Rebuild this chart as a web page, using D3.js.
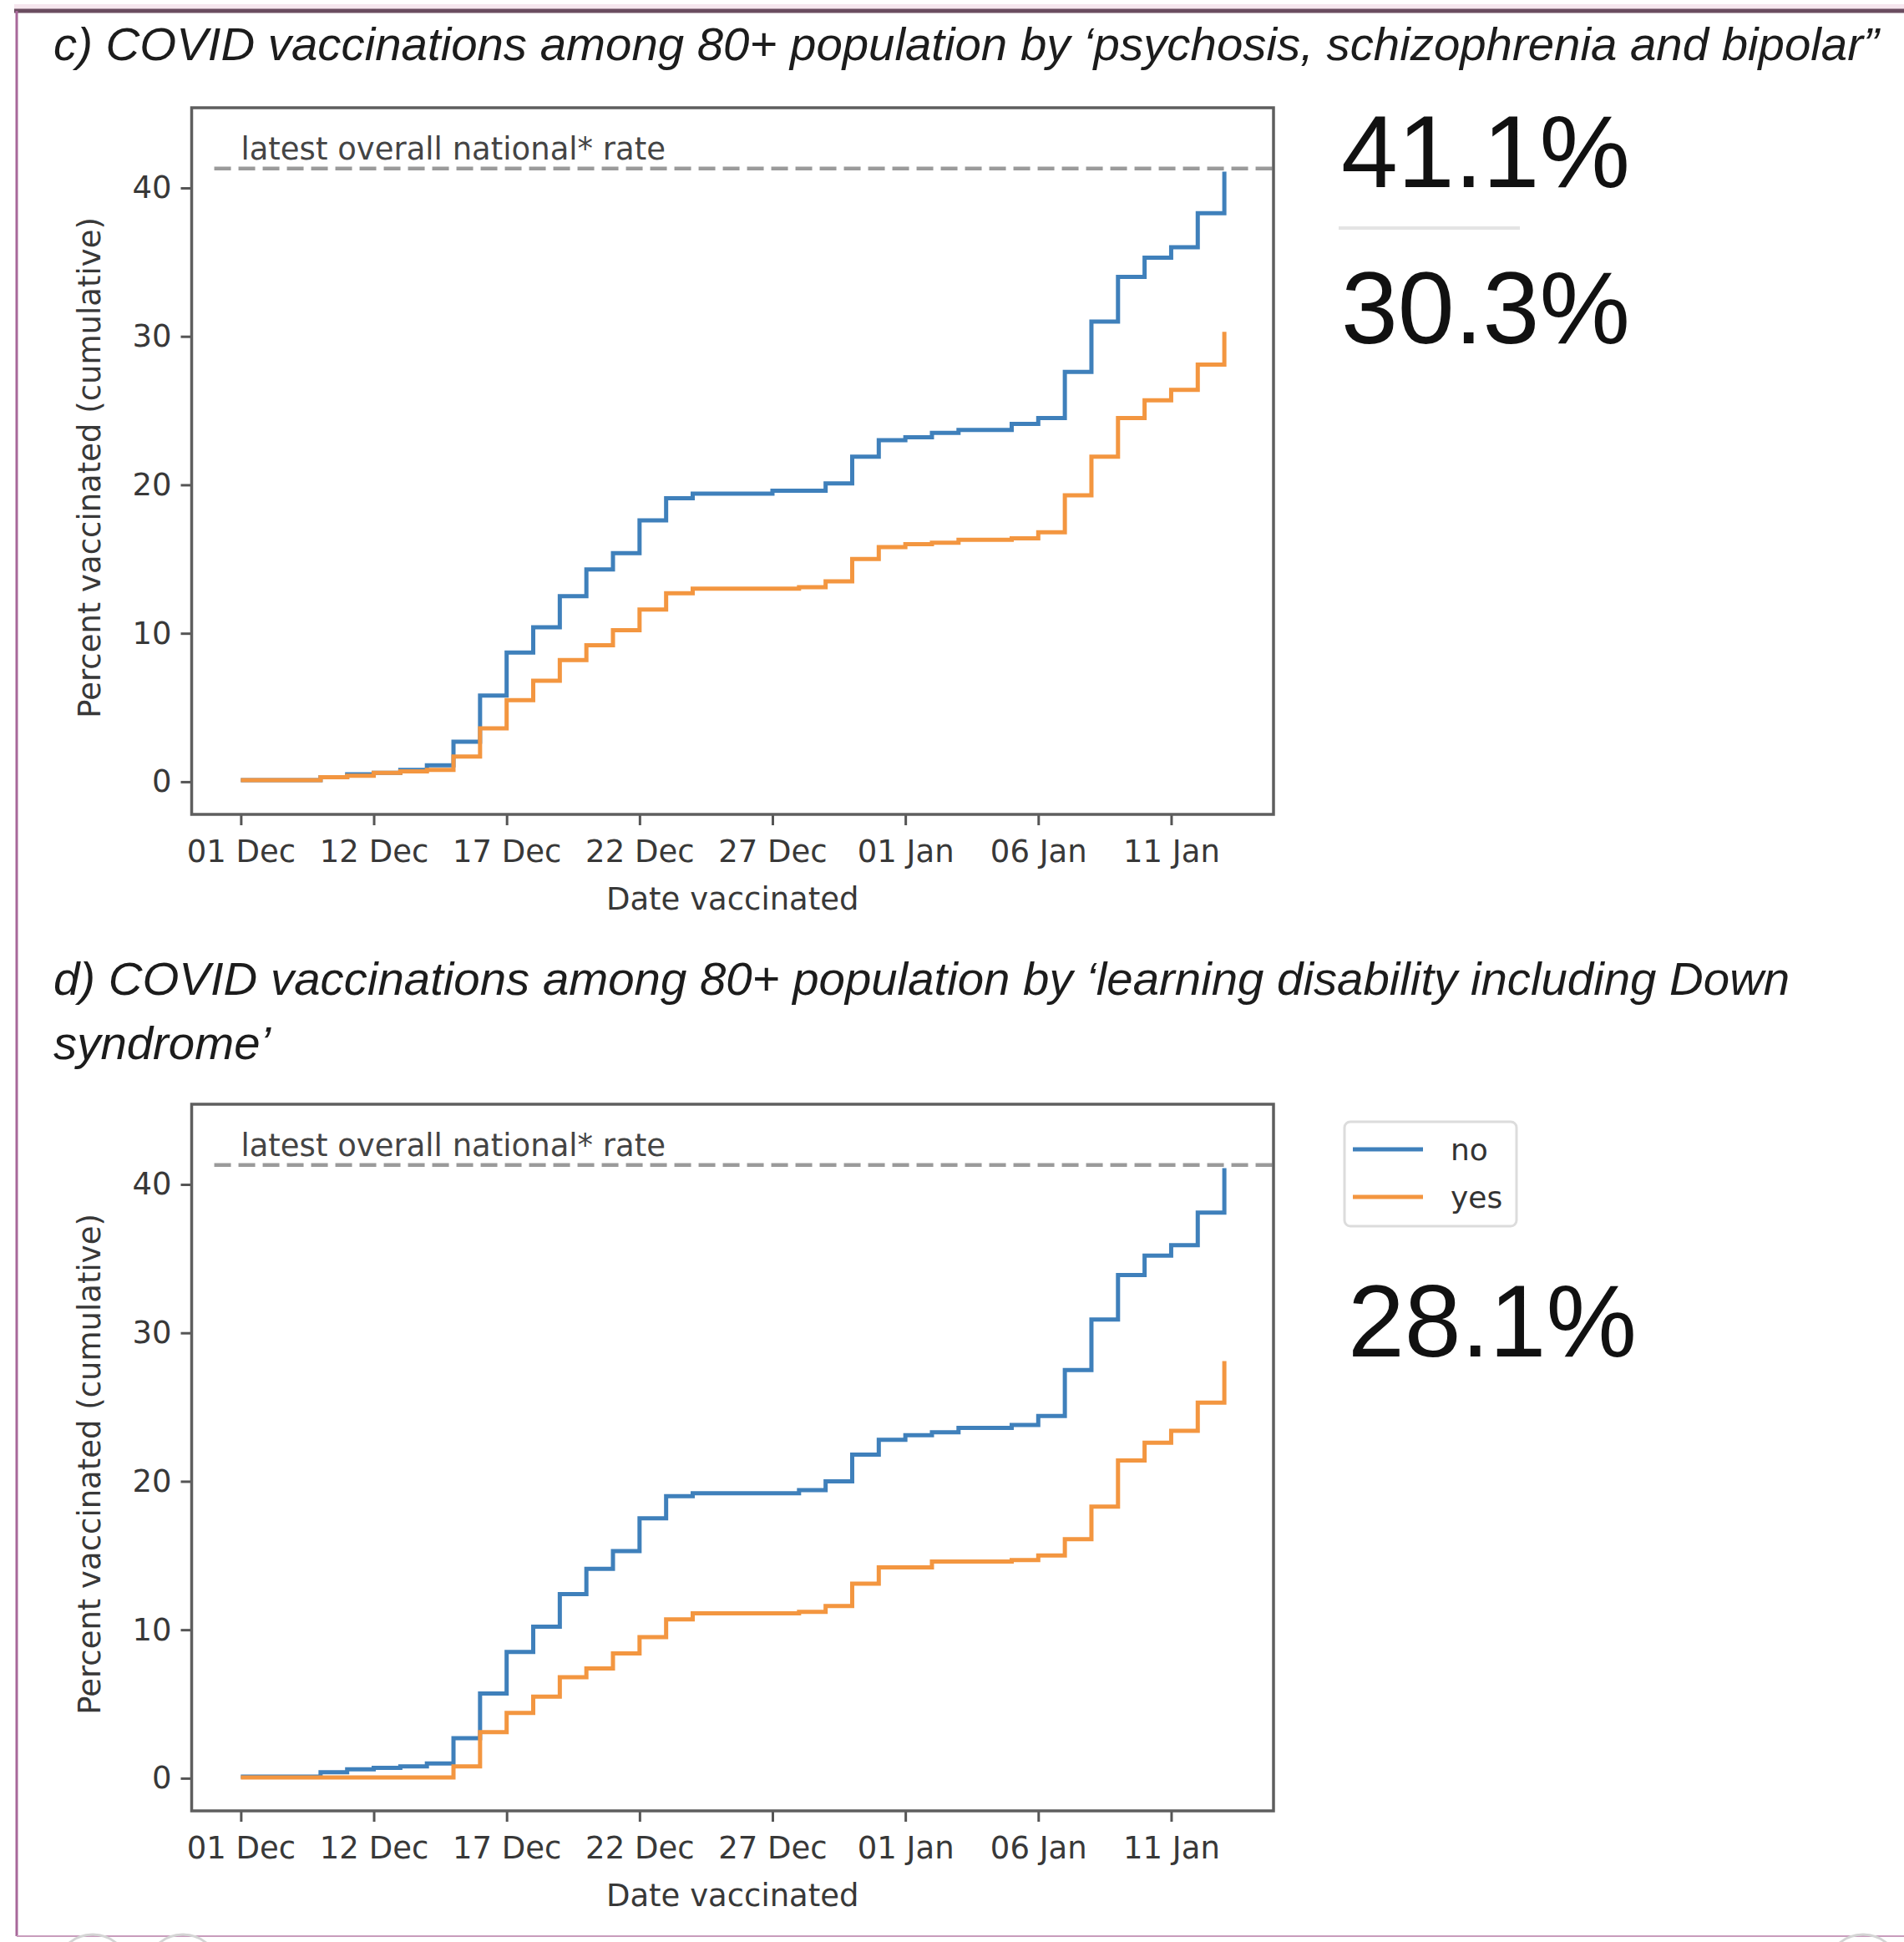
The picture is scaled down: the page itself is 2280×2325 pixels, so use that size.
<!DOCTYPE html>
<html><head><meta charset="utf-8">
<script src="https://cdn.jsdelivr.net/npm/d3@7/dist/d3.min.js"></script>
<style>body{margin:0;background:#fff;overflow:hidden}</style>
</head><body>
<svg id="chart" width="2280" height="2325" xmlns="http://www.w3.org/2000/svg"></svg>
<script>
// ---------- data ----------
const dates = ["2020-12-07","2020-12-08","2020-12-09","2020-12-10","2020-12-11","2020-12-12","2020-12-13","2020-12-14",
  "2020-12-15","2020-12-16","2020-12-17","2020-12-18","2020-12-19","2020-12-20","2020-12-21","2020-12-22",
  "2020-12-23","2020-12-24","2020-12-25","2020-12-26","2020-12-27","2020-12-28","2020-12-29","2020-12-30",
  "2020-12-31","2021-01-01","2021-01-02","2021-01-03","2021-01-04","2021-01-05","2021-01-06","2021-01-07",
  "2021-01-08","2021-01-09","2021-01-10","2021-01-11","2021-01-12","2021-01-13"];
const tickDates = ["2020-12-07","2020-12-12","2020-12-17","2020-12-22","2020-12-27","2021-01-01","2021-01-06","2021-01-11"];
const tickLabels = ["01 Dec","12 Dec","17 Dec","22 Dec","27 Dec","01 Jan","06 Jan","11 Jan"];
const yTicks = [0,10,20,30,40];
const seriesNames = ["no","yes"];

// c) psychosis, schizophrenia and bipolar
const cNo  = [0.1,0.1,0.1,0.3,0.5,0.6,0.8,1.1,2.7,5.8,8.7,10.4,12.5,14.3,15.4,17.6,19.1,19.4,19.4,19.4,19.6,19.6,20.1,21.9,23.0,23.2,23.5,23.7,23.7,24.1,24.5,27.6,31.0,34.0,35.3,36.0,38.3,41.1];
const cYes = [0.1,0.1,0.1,0.3,0.4,0.6,0.7,0.8,1.7,3.6,5.5,6.8,8.2,9.2,10.2,11.6,12.7,13.0,13.0,13.0,13.0,13.1,13.5,15.0,15.8,16.0,16.1,16.3,16.3,16.4,16.8,19.3,21.9,24.5,25.7,26.4,28.1,30.3];
// d) learning disability including Down syndrome
const dNo  = [0.1,0.1,0.1,0.4,0.6,0.7,0.8,1.0,2.7,5.7,8.5,10.2,12.4,14.1,15.3,17.5,19.0,19.2,19.2,19.2,19.2,19.4,20.0,21.8,22.8,23.1,23.3,23.6,23.6,23.8,24.4,27.5,30.9,33.9,35.2,35.9,38.1,41.1];
const dYes = [0.05,0.05,0.05,0.05,0.05,0.05,0.05,0.05,0.8,3.1,4.4,5.5,6.8,7.4,8.4,9.5,10.7,11.1,11.1,11.1,11.1,11.2,11.6,13.1,14.2,14.2,14.6,14.6,14.6,14.7,15.0,16.1,18.3,21.4,22.6,23.4,25.3,28.1];

const nationalRate = 41.3;
const refLabel = "latest overall national* rate";
const titleC = "c) COVID vaccinations among 80+ population by \u2018psychosis, schizophrenia and bipolar\u201D";
const titleD1 = "d) COVID vaccinations among 80+ population by \u2018learning disability including Down";
const titleD2 = "syndrome\u2019";
const bigC1 = "41.1%", bigC2 = "30.3%", bigD = "28.1%";
const xLabel = "Date vaccinated";
const yLabel = "Percent vaccinated (cumulative)";

// ---------- drawing ----------
const parse = d3.utcParse("%Y-%m-%d");
const svg = d3.select("#chart");
const DAY = 864e5;
const colors = {no:"#3f80bb", yes:"#f39640"};
const axisFont = "'DejaVu Sans', sans-serif";
const titleFont = "'Liberation Sans', Arial, sans-serif";

// frame
svg.append("rect").attr("x",0).attr("y",0).attr("width",2280).attr("height",2325).attr("fill","#fff");
svg.append("line").attr("x1",17).attr("x2",2280).attr("y1",8).attr("y2",8).attr("stroke","#f6e6ee").attr("stroke-width",6);
svg.append("line").attr("x1",17).attr("x2",2280).attr("y1",13).attr("y2",13).attr("stroke","#6a4d60").attr("stroke-width",5);
svg.append("line").attr("x1",20).attr("x2",20).attr("y1",13).attr("y2",2318).attr("stroke","#a8689a").attr("stroke-width",3);
svg.append("line").attr("x1",20).attr("x2",2280).attr("y1",2318).attr("y2",2318).attr("stroke","#c89cbc").attr("stroke-width",2);
[[111,2360],[219,2360],[2231,2360]].forEach(c=>{
  svg.append("circle").attr("cx",c[0]).attr("cy",c[1]).attr("r",44).attr("fill","none").attr("stroke","#d4d4d4").attr("stroke-width",3);
});

// titles (fit width)
function titleText(t, x, y) {
  return svg.append("text").attr("x",x).attr("y",y).text(t)
    .attr("font-family",titleFont).attr("font-style","italic").attr("fill","#1c1c1c").attr("font-size",50);
}
const tc = titleText(titleC, 64, 72);
const fs = 50 * 2186 / tc.node().getComputedTextLength();
tc.attr("font-size", fs);
titleText(titleD1, 64, 1191).attr("font-size", fs);
titleText(titleD2, 64, 1268).attr("font-size", fs);

function panel(top, noVals, yesVals) {
  const left = 229.5, right = 1525, bottom = top + 846;
  const d0 = parse(dates[0]).getTime(), dN = parse(dates[dates.length-1]).getTime();
  const x = d3.scaleUtc().domain([new Date(d0 - 1.85*DAY), new Date(dN + 1.85*DAY)]).range([left, right]);
  const y = d3.scaleLinear().domain([-2.2, 45.4]).range([bottom, top]);
  const g = svg.append("g");
  const clipId = "clip" + Math.round(top);
  g.append("clipPath").attr("id", clipId).append("rect")
    .attr("x",left).attr("y",top).attr("width",right-left).attr("height",bottom-top);

  // reference line
  g.append("line").attr("clip-path",`url(#${clipId})`)
    .attr("x1", x(new Date(d0 - DAY))).attr("x2", right)
    .attr("y1", y(nationalRate)).attr("y2", y(nationalRate))
    .attr("stroke","#9a9a9a").attr("stroke-width",4.5).attr("stroke-dasharray","20,9");
  g.append("text").attr("x", x(new Date(d0))).attr("y", y(nationalRate) - 11)
    .text(refLabel).attr("font-family",axisFont).attr("font-size",37).attr("fill","#444");

  // series
  const line = d3.line().curve(d3.curveStepAfter).x((d,i)=>x(parse(dates[i]))).y(d=>y(d));
  [[noVals,"no"],[yesVals,"yes"]].forEach(([vals,name])=>{
    g.append("path").datum(vals).attr("d",line).attr("fill","none")
      .attr("stroke",colors[name]).attr("stroke-width",5).attr("stroke-linejoin","miter")
      .attr("clip-path",`url(#${clipId})`);
  });

  // axes
  const xa = d3.axisBottom(x).tickValues(tickDates.map(parse)).tickFormat((d,i)=>tickLabels[i]).tickSize(13).tickPadding(18);
  const ya = d3.axisLeft(y).tickValues(yTicks).tickSize(13).tickPadding(11);
  const gx = g.append("g").attr("transform",`translate(0,${bottom})`).call(xa);
  const gy = g.append("g").attr("transform",`translate(${left},0)`).call(ya);
  [gx,gy].forEach(a=>{
    a.select(".domain").remove();
    a.selectAll(".tick line").attr("stroke","#555").attr("stroke-width",3);
    a.selectAll(".tick text").attr("font-family",axisFont).attr("font-size",37).attr("fill","#383838");
  });
  g.append("rect").attr("x",left).attr("y",top).attr("width",right-left).attr("height",bottom-top)
    .attr("fill","none").attr("stroke","#5e5e5e").attr("stroke-width",3.5);

  g.append("text").attr("x",(left+right)/2).attr("y",bottom+114).attr("text-anchor","middle")
    .text(xLabel).attr("font-family",axisFont).attr("font-size",37).attr("fill","#383838");
  g.append("text").attr("transform",`translate(${120},${(top+bottom)/2 + 8}) rotate(-90)`).attr("text-anchor","middle")
    .text(yLabel).attr("font-family",axisFont).attr("font-size",37).attr("fill","#383838");
}
panel(129, cNo, cYes);
panel(1322, dNo, dYes);

// big numbers
function big(t, x, y) {
  svg.append("text").attr("x",x).attr("y",y).text(t).attr("font-family",titleFont)
    .attr("font-size",122).attr("fill","#111");
}
big(bigC1, 1606, 224);
svg.append("line").attr("x1",1603).attr("x2",1820).attr("y1",273).attr("y2",273).attr("stroke","#e4e4e4").attr("stroke-width",4);
big(bigC2, 1606, 411);
big(bigD, 1614, 1624);

// legend
const lg = svg.append("g");
lg.append("rect").attr("x",1610).attr("y",1343).attr("width",206).attr("height",125).attr("rx",7)
  .attr("fill","#fff").attr("stroke","#dcdcdc").attr("stroke-width",3);
seriesNames.forEach((n,i)=>{
  const yy = 1376 + i*57;
  lg.append("line").attr("x1",1620).attr("x2",1704).attr("y1",yy).attr("y2",yy).attr("stroke",colors[n]).attr("stroke-width",5);
  lg.append("text").attr("x",1737).attr("y",yy+13).text(n).attr("font-family",axisFont).attr("font-size",36).attr("fill","#333");
});
</script>
</body></html>
